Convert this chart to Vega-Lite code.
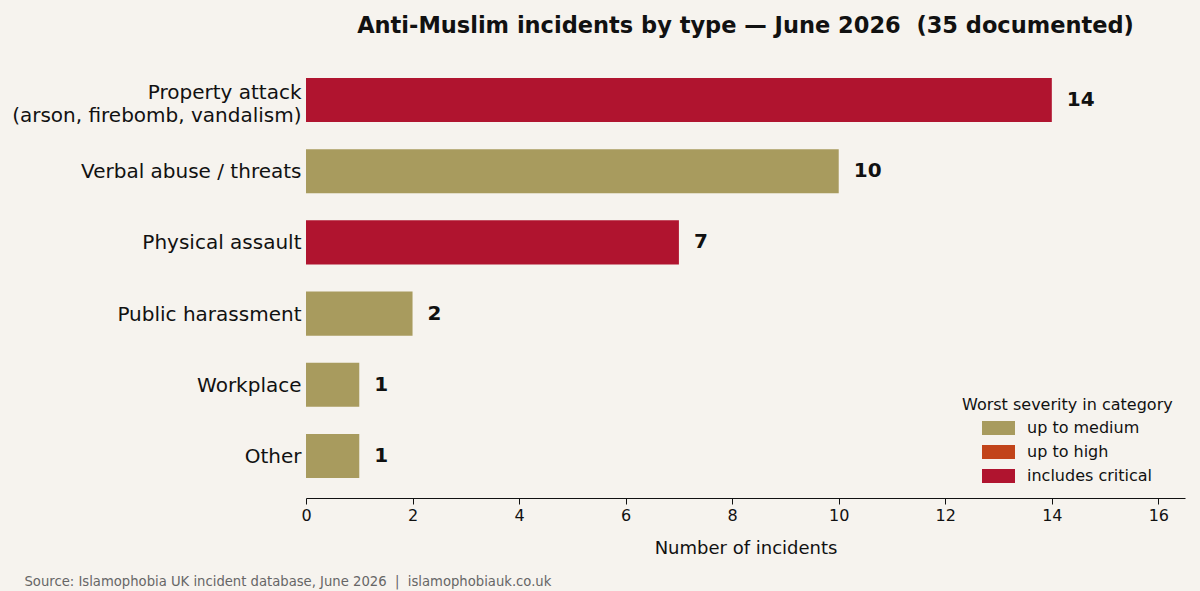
{
  "$schema": "https://vega.github.io/schema/vega-lite/v6.json",
  "width": 879,
  "height": 440,
  "autosize": "none",
  "padding": {"left": 306, "top": 58, "right": 15, "bottom": 93},
  "background": "#f6f3ee",
  "config": {
    "view": {"stroke": null},
    "font": "DejaVu Sans"
  },
  "title": {
    "text": "Anti-Muslim incidents by type — June 2026 \u00a0(35 documented)",
    "font": "DejaVu Sans",
    "fontSize": 22.5,
    "fontWeight": "bold",
    "color": "#111111",
    "anchor": "middle",
    "offset": 21
  },
  "data": {
    "values": [
      {"type": "Property attack|(arson, firebomb, vandalism)", "count": 14, "severity": "includes critical"},
      {"type": "Verbal abuse / threats", "count": 10, "severity": "up to medium"},
      {"type": "Physical assault", "count": 7, "severity": "includes critical"},
      {"type": "Public harassment", "count": 2, "severity": "up to medium"},
      {"type": "Workplace", "count": 1, "severity": "up to medium"},
      {"type": "Other", "count": 1, "severity": "up to medium"}
    ]
  },
  "encoding": {
    "y": {
      "field": "type",
      "type": "nominal",
      "sort": null,
      "scale": {"paddingInner": 0.38, "paddingOuter": 0.28},
      "axis": {
        "title": "Source: Islamophobia UK incident database, June 2026 \u00a0| \u00a0islamophobiauk.co.uk",
        "titleAngle": 0,
        "titleX": -282,
        "titleY": 527,
        "titleAlign": "left",
        "titleBaseline": "alphabetic",
        "titleFont": "DejaVu Sans",
        "titleFontSize": 13.2,
        "titleFontWeight": "normal",
        "titleColor": "#666666",
        "domain": false,
        "ticks": false,
        "labelPadding": 5,
        "labelFontSize": 20,
        "labelColor": "#111111",
        "labelLimit": 400,
        "labelLineHeight": 23,
        "labelOffset": {"condition": {"test": "indexof(datum.value, '|') >= 0", "value": -7}, "value": 1},
        "labelExpr": "split(datum.value, '|')"
      }
    },
    "x": {
      "field": "count",
      "type": "quantitative",
      "scale": {"domain": [0, 16.5], "nice": false, "zero": true},
      "axis": {
        "title": "Number of incidents",
        "titleFontSize": 18,
        "titleFontWeight": "normal",
        "titleColor": "#111111",
        "titlePadding": 16,
        "values": [0, 2, 4, 6, 8, 10, 12, 14, 16],
        "grid": false,
        "labelFlush": false,
        "domainColor": "#111111",
        "domainWidth": 1.2,
        "tickColor": "#111111",
        "tickSize": 6,
        "labelFontSize": 16,
        "labelColor": "#111111",
        "labelPadding": 3
      }
    }
  },
  "layer": [
    {
      "mark": {"type": "bar"},
      "encoding": {
        "color": {
          "field": "severity",
          "type": "nominal",
          "scale": {
            "domain": ["up to medium", "up to high", "includes critical"],
            "range": ["#a89b5e", "#c2441a", "#b0142f"]
          },
          "legend": {
            "title": "Worst severity in category",
            "orient": "none",
            "legendX": 656,
            "legendY": 339,
            "titleFontSize": 16,
            "titleFontWeight": "normal",
            "titleColor": "#111111",
            "titleLimit": 400,
            "titlePadding": 5,
            "labelFontSize": 16,
            "labelColor": "#111111",
            "labelOffset": 12,
            "symbolOffset": 20,
            "symbolType": "M-1,-0.42H1V0.42H-1Z",
            "symbolSize": 1089,
            "symbolStrokeWidth": 0,
            "symbolOpacity": 1,
            "clipHeight": 20,
            "rowPadding": 4
          }
        }
      }
    },
    {
      "mark": {"type": "text", "align": "left", "baseline": "middle", "dx": 15, "fontSize": 20, "fontWeight": "bold", "color": "#111111"},
      "encoding": {
        "text": {"field": "count", "type": "quantitative"}
      }
    }
  ]
}
